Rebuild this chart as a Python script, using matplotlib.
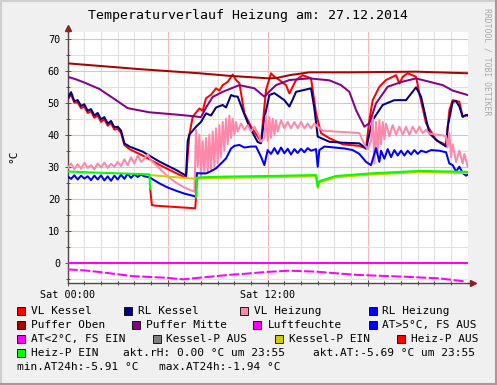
import matplotlib
matplotlib.use('Agg')
import matplotlib.pyplot as plt
from matplotlib.ticker import MultipleLocator, FixedLocator, FuncFormatter
from matplotlib.patches import Rectangle
from matplotlib.lines import Line2D

# --- data (hours since Sat 00:00, degC) ---
vl_kessel_t = [0, 0.2, 0.4, 0.6, 0.8, 1.0, 1.2, 1.4, 1.6, 1.8, 2.0, 2.2, 2.4, 2.6, 2.8, 3.0, 3.2, 3.4,
               3.7, 4.5, 5.5, 6.5, 7.1, 7.3, 7.5, 7.9, 8.1, 8.3, 8.6, 8.9, 9.1, 9.3, 9.6, 9.9, 10.1,
               10.3, 10.6, 11.0, 11.4, 11.6, 11.9, 12.2, 12.4, 12.7, 13.1, 13.3, 13.7, 14.1, 14.6,
               14.9, 15.2, 15.7, 16.5, 17.5, 17.9, 18.1, 18.3, 18.7, 19.1, 19.7, 19.9, 20.1, 20.4,
               20.9, 21.1, 21.5, 22.1, 22.7, 22.9, 23.1, 23.5, 23.7, 23.9, 24]
vl_kessel_v = [51.0, 52.6, 50.0, 50.1, 48.3, 48.8, 46.8, 47.3, 45.3, 46.0, 44.0, 44.8, 42.8, 43.6, 41.6,
               41.8, 40.6, 36.8, 35.5, 33.5, 30.6, 28.0, 26.5, 40.0, 45.6, 48.2, 47.5, 51.4, 52.5, 54.5,
               53.8, 55.5, 56.5, 58.8, 57.1, 56.1, 46.7, 42.5, 39.4, 37.8, 54.0, 59.2, 58.1, 57.1, 55.5,
               52.9, 57.1, 58.6, 57.6, 46.7, 40.5, 38.9, 37.0, 36.5, 35.7, 44.6, 50.8, 55.0, 57.1, 58.6,
               56.0, 58.1, 59.2, 58.1, 52.9, 43.6, 38.3, 36.8, 47.7, 50.8, 50.3, 45.6, 46.0, 46.2]

rl_kessel_t = [0, 0.2, 0.4, 0.6, 0.8, 1.0, 1.2, 1.4, 1.6, 1.8, 2.0, 2.2, 2.4, 2.6, 2.8, 3.0, 3.2, 3.4,
               3.7, 4.5, 5.5, 6.5, 7.1, 7.2, 7.3, 7.7, 8.0, 8.3, 8.6, 8.9, 9.3, 9.5, 9.8, 10.0, 10.2,
               10.5, 10.9, 11.4, 11.6, 11.8, 12.1, 12.4, 12.7, 13.0, 13.3, 13.5, 13.7, 14.2, 14.6,
               14.8, 15.0, 15.7, 16.5, 17.5, 17.9, 18.3, 18.9, 19.6, 20.3, 20.9, 21.2, 21.7, 22.2,
               22.7, 22.8, 23.1, 23.3, 23.5, 23.7, 23.9, 24]
rl_kessel_v = [51.5, 53.3, 50.5, 50.8, 49.0, 49.5, 47.5, 48.0, 46.0, 46.8, 44.8, 45.5, 43.5, 44.3, 42.3,
               42.5, 41.3, 37.3, 36.3, 34.7, 31.6, 29.0, 27.2, 38.0, 40.0, 42.5, 44.0, 46.7, 46.0, 48.5,
               49.3, 48.5, 52.4, 52.0, 51.9, 47.7, 42.5, 37.7, 37.3, 45.1, 52.4, 53.0, 51.9, 50.8, 48.8,
               51.0, 53.4, 54.0, 54.5, 48.2, 39.4, 37.8, 37.5, 37.3, 35.7, 44.6, 49.3, 50.8, 50.8, 54.8,
               51.9, 40.4, 38.0, 36.3, 42.5, 50.3, 50.5, 48.8, 45.6, 46.2, 46.0]

vl_heizung_t = [0, 0.2, 0.4, 0.6, 0.8, 1.0, 1.2, 1.4, 1.6, 1.8, 2.0, 2.2, 2.4, 2.6, 2.8, 3.0, 3.2, 3.4,
                3.6, 3.8, 4.0, 4.2, 4.4, 4.6, 4.8, 5.0, 5.5, 6.0, 6.5, 7.0, 7.6, 7.7, 7.8, 7.9, 8.0,
                8.1, 8.2, 8.3, 8.4, 8.5, 8.6, 8.7, 8.8, 8.9, 9.0, 9.1, 9.2, 9.3, 9.4, 9.5, 9.6, 9.7,
                9.8, 9.9, 10.0, 10.1, 10.2, 10.4, 10.6, 10.8, 11.0, 11.2, 11.4, 11.6, 11.8, 11.9,
                12.0, 12.1, 12.2, 12.3, 12.4, 12.5, 12.6, 12.8, 13.0, 13.2, 13.4, 13.6, 13.8, 14.0,
                14.2, 14.4, 14.6, 14.8, 15.0, 15.3, 16.0, 17.0, 17.5, 17.8, 18.0, 18.2, 18.3, 18.4,
                18.5, 18.6, 18.7, 18.8, 18.9, 19.0, 19.1, 19.3, 19.5, 19.7, 19.9, 20.1, 20.3, 20.5,
                20.7, 20.9, 21.1, 21.3, 21.5, 21.7, 22.2, 22.7, 22.8, 22.9, 23.0, 23.1, 23.3, 23.5,
                23.7, 23.8, 24]
vl_heizung_v = [29.5, 31.0, 29.2, 30.8, 29.4, 31.2, 29.6, 30.5, 29.2, 31.0, 29.8, 31.3, 29.6, 30.9,
                30.0, 31.5, 30.2, 32.3, 30.5, 33.0, 31.0, 33.5, 31.5, 32.5, 33.8, 32.0, 29.5, 27.0,
                25.0, 23.5, 22.2, 41.5, 30.0, 40.0, 27.0, 38.0, 28.0, 39.0, 28.5, 40.0, 29.0, 41.0,
                30.0, 42.0, 31.0, 43.0, 33.0, 44.0, 35.0, 45.0, 37.0, 46.0, 39.0, 45.0, 40.0, 44.0,
                41.0, 43.5, 41.5, 43.0, 41.0, 42.5, 40.5, 37.8, 39.0, 46.0, 38.0, 45.5, 39.0, 45.0,
                40.0, 44.5, 41.0, 44.5, 42.0, 44.0, 42.0, 44.0, 42.0, 44.0, 42.0, 43.5, 42.0, 43.5,
                42.5, 41.3, 41.0, 40.7, 40.5, 37.0, 35.5, 38.0, 46.0, 31.0, 44.0, 34.0, 44.5, 37.0,
                44.0, 38.5, 43.5, 39.5, 43.0, 40.0, 42.5, 40.0, 42.5, 40.0, 42.5, 40.5, 42.5, 40.5,
                41.5, 40.3, 40.0, 39.6, 36.0, 40.5, 33.0, 37.0, 31.5, 35.0, 31.0, 34.0, 30.0]

rl_heizung_t = [0, 0.2, 0.4, 0.6, 0.8, 1.0, 1.2, 1.4, 1.6, 1.8, 2.0, 2.2, 2.4, 2.6, 2.8, 3.0, 3.2, 3.4,
                3.6, 3.8, 4.0, 4.2, 4.4, 4.6, 4.9, 5.5, 6.0, 6.5, 7.0, 7.6, 7.7, 7.75, 8.0, 8.3, 8.6,
                8.9, 9.2, 9.5, 9.8, 10.0, 10.3, 10.6, 11.0, 11.3, 11.6, 11.8, 12.0, 12.2, 12.4, 12.6,
                12.8, 13.0, 13.2, 13.4, 13.6, 13.8, 14.0, 14.2, 14.4, 14.6, 14.9, 15.0, 15.1, 15.4,
                16.0, 16.6, 17.1, 17.5, 17.9, 18.2, 18.5, 18.7, 18.8, 19.0, 19.2, 19.4, 19.6, 19.8,
                20.0, 20.2, 20.4, 20.6, 20.8, 21.0, 21.2, 21.5, 21.8, 22.3, 22.7, 22.9, 23.1, 23.3,
                23.5, 23.7, 23.9, 24]
rl_heizung_v = [27.0, 26.2, 27.3, 26.0, 27.2, 26.3, 27.0, 25.8, 27.2, 26.0, 27.3, 25.7, 27.0, 25.6,
                27.2, 26.0, 27.5, 26.2, 27.8, 26.5, 27.6, 26.8, 27.5, 27.0, 26.7, 24.8, 23.5, 22.5,
                21.6, 20.8, 20.5, 28.0, 27.9, 27.9, 28.6, 29.5, 31.0, 32.6, 35.7, 36.5, 36.8, 36.0,
                36.3, 36.3, 33.1, 30.5, 35.2, 34.0, 35.8, 34.0, 36.0, 34.2, 35.6, 33.8, 35.5, 34.3,
                35.6, 34.5, 35.8, 35.0, 35.5, 30.0, 35.2, 36.3, 36.0, 35.7, 35.2, 34.0, 31.5, 30.5,
                35.8, 31.5, 35.0, 32.5, 35.5, 33.0, 35.2, 33.5, 35.0, 33.5, 35.0, 33.8, 35.2, 34.0,
                35.0, 34.5, 35.2, 35.0, 34.5, 31.0, 30.5, 28.5, 30.0, 28.0, 27.2, 27.5]

puffer_oben_t = [0, 4.3, 7.9, 9.7, 12.1, 12.6, 13.3, 14.5, 17.0, 20.9, 24]
puffer_oben_v = [62.3, 60.5, 59.2, 58.4, 57.6, 57.8, 58.6, 59.5, 59.5, 59.7, 59.2]

puffer_mitte_t = [0, 0.5, 1.0, 1.9, 2.9, 3.6, 4.9, 6.5, 7.5, 8.0, 8.3, 8.7, 9.3, 10.3, 11.2, 11.8,
                  12.1, 12.5, 13.3, 14.5, 15.7, 16.4, 16.9, 17.3, 17.8, 18.1, 18.5, 19.2, 20.1, 20.9,
                  22.5, 23.1, 24]
puffer_mitte_v = [58.1, 57.3, 56.3, 54.3, 50.8, 48.3, 47.0, 46.3, 45.8, 45.5, 48.5, 51.8, 53.4, 55.5,
                  54.5, 51.9, 53.5, 55.5, 57.1, 57.6, 57.0, 55.5, 53.4, 47.7, 42.5, 43.6, 49.8, 55.0,
                  56.6, 57.6, 55.5, 53.8, 52.4]

luftfeuchte_t = [0, 24]
luftfeuchte_v = [0.0, 0.0]

at_fs_ein_t = [0, 1.0, 1.9, 3.9, 5.9, 6.9, 7.9, 9.9, 10.3, 11.9, 13.3, 14.9, 17.3, 20.3, 22.3, 23.9]
at_fs_ein_v = [-2.1, -2.4, -2.9, -4.2, -4.7, -5.2, -4.7, -3.7, -3.6, -2.9, -2.5, -2.8, -3.8, -4.4,
               -4.9, -5.9]

kessel_p_ein_t = [4.9, 7.7, 8.0, 9.3, 12.0, 14.9, 15.0, 15.1, 16.1, 18.1, 21.1, 24]
kessel_p_ein_v = [27.4, 26.2, 26.3, 26.5, 26.7, 27.0, 23.4, 25.1, 26.7, 27.5, 28.3, 28.0]

heiz_p_aus_t = [4.95, 5.05, 5.3, 7.65, 7.7]
heiz_p_aus_v = [23.0, 18.0, 17.8, 17.0, 20.5]

heiz_p_ein1_t = [0, 2.0, 4.9, 4.95]
heiz_p_ein1_v = [28.5, 28.1, 27.6, 23.0]
heiz_p_ein2_t = [7.7, 7.75, 8.0, 9.3, 12.0, 14.9, 15.0, 15.1, 16.1, 18.1, 21.1, 24]
heiz_p_ein2_v = [20.5, 26.6, 26.7, 26.9, 27.1, 27.4, 23.8, 25.5, 27.1, 27.9, 28.7, 28.4]

legend_rows = [
    [('VL Kessel', '#ff0000'), ('RL Kessel', '#000080'), ('VL Heizung', '#ff88aa'), ('RL Heizung', '#0000ff')],
    [('Puffer Oben', '#aa0000'), ('Puffer Mitte', '#880088'), ('Luftfeuchte', '#ff00ff'), ('AT>5°C, FS AUS', '#0000ff')],
    [('AT<2°C, FS EIN', '#ff00ff'), ('Kessel-P AUS', '#808080'), ('Kessel-P EIN', '#cccc00'), ('Heiz-P AUS', '#ff0000')],
    [('Heiz-P EIN', '#00ff00')],
]
info_row4 = ['akt.rH: 0.00 °C um 23:55', 'akt.AT:-5.69 °C um 23:55']
info_row5 = ['min.AT24h:-5.91 °C', 'max.AT24h:-1.94 °C']
title = 'Temperaturverlauf Heizung am: 27.12.2014'

W, H = 497, 385
mono = 'DejaVu Sans Mono'

fig = plt.figure(figsize=(W / 100, H / 100), dpi=100, facecolor='#f0f0f0')
ax = fig.add_axes([67.7 / W, 1 - 283.3 / H, 400 / W, (283.3 - 32) / H])
ax.set_facecolor('white')
ax.set_xlim(0, 24)
ax.set_ylim(-6.44, 72.1)

# grid like rrdtool: grey minor, light red major
ax.yaxis.set_major_locator(MultipleLocator(10))
ax.yaxis.set_minor_locator(MultipleLocator(5))
ax.xaxis.set_major_locator(FixedLocator([0, 6, 12, 18]))
ax.xaxis.set_minor_locator(FixedLocator(range(1, 24)))
ax.xaxis.set_major_formatter(FuncFormatter(lambda v, p: {0: 'Sat 00:00', 12: 'Sat 12:00'}.get(int(round(v)), '')))
ax.set_axisbelow(True)
ax.grid(which='minor', color='#e1e1e1', lw=0.8)
ax.grid(which='major', color='#f3b9b9', lw=0.8)
ax.tick_params(which='both', direction='inout', color='#555555', labelsize=7.3, width=0.7)
ax.tick_params(which='major', length=4)
ax.tick_params(which='minor', length=2.5)
ax.tick_params(axis='y', pad=3.5)
ax.tick_params(axis='x', pad=3)
for lab in ax.get_xticklabels() + ax.get_yticklabels():
    lab.set_family(mono)

for s in ['top', 'right']:
    ax.spines[s].set_visible(False)
for s in ['left', 'bottom']:
    ax.spines[s].set_color('#554444')
    ax.spines[s].set_linewidth(1.0)

# axis extensions with arrows
ax.plot([0, 0], [1.0, 1.012], color='#554444', lw=1.0, transform=ax.transAxes, clip_on=False)
ax.plot([1.0, 1.01], [0, 0], color='#554444', lw=1.0, transform=ax.transAxes, clip_on=False)
ax.plot([0], [1.016], marker='^', ms=4, color='#8b2222', transform=ax.transAxes, clip_on=False)
ax.plot([1.013], [0], marker='>', ms=4, color='#8b2222', transform=ax.transAxes, clip_on=False)

lw = 1.45
ax.plot(vl_kessel_t, vl_kessel_v, color='#ff0000', lw=lw, zorder=3)
ax.plot(rl_kessel_t, rl_kessel_v, color='#000080', lw=lw, zorder=3)
ax.plot(vl_heizung_t, vl_heizung_v, color='#ff88aa', lw=lw, zorder=3)
ax.plot(rl_heizung_t, rl_heizung_v, color='#0000ff', lw=lw, zorder=3)
ax.plot(puffer_oben_t, puffer_oben_v, color='#aa0000', lw=lw, zorder=3)
ax.plot(puffer_mitte_t, puffer_mitte_v, color='#880088', lw=lw, zorder=3)
ax.plot(luftfeuchte_t, luftfeuchte_v, color='#ff00ff', lw=lw, zorder=3)
ax.plot(at_fs_ein_t, at_fs_ein_v, color='#ff00ff', lw=lw, ls=(0, (5, 1.2)), zorder=3)
ax.plot(kessel_p_ein_t, kessel_p_ein_v, color='#cccc00', lw=lw, zorder=3)
ax.plot(heiz_p_aus_t, heiz_p_aus_v, color='#ff0000', lw=lw, zorder=3)
ax.plot(heiz_p_ein1_t, heiz_p_ein1_v, color='#00ff00', lw=lw, zorder=3)
ax.plot(heiz_p_ein2_t, heiz_p_ein2_v, color='#00ff00', lw=lw, zorder=3)

# texts
fig.text(0.5, 1 - 16 / H, title, ha='center', va='center', family=mono, fontsize=9.5)
fig.text(13 / W, 1 - 156 / H, '°C', rotation=90, ha='center', va='center', family=mono, fontsize=8)
fig.text(487 / W, 1 - 62 / H, 'RRDTOOL / TOBI OETIKER', rotation=270, ha='center', va='center',
         family=mono, fontsize=5.9, color='#aaaaaa')

# legend, rrdtool style
row_y = [311, 325, 339, 353, 367]
col_sq = [[17, 124.5, 240, 368.5], [17, 132, 253.5, 368.5], [17, 152.5, 275, 396.7], [17]]
for r, row in enumerate(legend_rows):
    for c, (label, color) in enumerate(row):
        x0 = col_sq[r][c]
        fig.add_artist(Rectangle((x0 / W, 1 - (row_y[r] + 4) / H), 8 / W, 8 / H, transform=fig.transFigure,
                                 facecolor=color, edgecolor='black', lw=0.6))
        fig.text((x0 + 14) / W, 1 - row_y[r] / H, label, ha='left', va='center', family=mono, fontsize=8)
fig.text(122.7 / W, 1 - row_y[3] / H, info_row4[0], ha='left', va='center', family=mono, fontsize=8)
fig.text(312.7 / W, 1 - row_y[3] / H, info_row4[1], ha='left', va='center', family=mono, fontsize=8)
fig.text(16.7 / W, 1 - row_y[4] / H, info_row5[0], ha='left', va='center', family=mono, fontsize=8)
fig.text(159 / W, 1 - row_y[4] / H, info_row5[1], ha='left', va='center', family=mono, fontsize=8)

# shaded frame
fig.add_artist(Line2D([0, 1], [1 - 1 / H, 1 - 1 / H], transform=fig.transFigure, color='#cfcfcf', lw=1.5))
fig.add_artist(Line2D([1 / W, 1 / W], [0, 1], transform=fig.transFigure, color='#cfcfcf', lw=1.5))
fig.add_artist(Line2D([0, 1], [1 / H, 1 / H], transform=fig.transFigure, color='#9e9e9e', lw=1.5))
fig.add_artist(Line2D([1 - 1 / W, 1 - 1 / W], [0, 1], transform=fig.transFigure, color='#9e9e9e', lw=1.5))

fig.savefig('out.png', dpi=100, facecolor=fig.get_facecolor())
